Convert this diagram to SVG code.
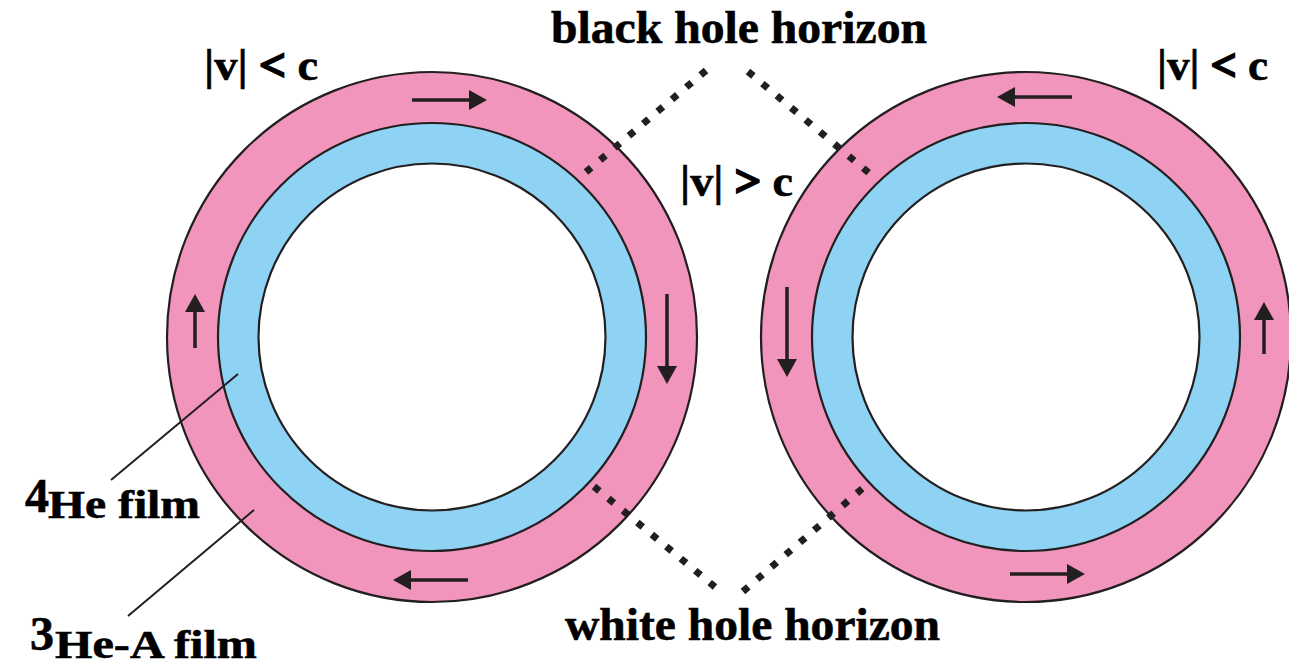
<svg xmlns="http://www.w3.org/2000/svg" width="1289" height="670" viewBox="0 0 1289 670">
<style>
.ring{stroke:#231f20;stroke-width:2.2}
.pink{fill:#f295bd}
.blue{fill:#8fd3f4}
.hole{fill:#ffffff}
.flow{stroke:#231f20;stroke-width:3.5;fill:none;marker-end:url(#head)}
.dots{stroke:#231f20;stroke-width:7;stroke-dasharray:7 11.8;fill:none}
.lead{stroke:#231f20;stroke-width:2;fill:none}
.lbl{font-family:"Liberation Serif","Times New Roman",serif;font-weight:bold;fill:#000;stroke:#000;stroke-width:0.6}
.op{stroke-width:2.2}
</style>
<defs>
<marker id="head" viewBox="0 0 18 20" refX="10" refY="10" markerWidth="18" markerHeight="20" markerUnits="userSpaceOnUse" orient="auto">
<path d="M0,0 L18,10 L0,20 Z" fill="#231f20"/>
</marker>
</defs>
<rect width="1289" height="670" fill="#ffffff"/>
<g id="left-ring">
<circle class="ring pink" cx="432" cy="337" r="265"/>
<circle class="ring blue" cx="432" cy="337" r="214"/>
<circle class="ring hole" cx="432" cy="337" r="173.5"/>
</g>
<g id="right-ring">
<circle class="ring pink" cx="1026" cy="337" r="265"/>
<circle class="ring blue" cx="1026" cy="337" r="214"/>
<circle class="ring hole" cx="1026" cy="337" r="173.5"/>
</g>
<g id="flow-arrows">
<line class="flow" x1="412" y1="100" x2="479" y2="100"/>
<line class="flow" x1="468" y1="580" x2="401" y2="580"/>
<line class="flow" x1="195" y1="348" x2="195" y2="302"/>
<line class="flow" x1="667" y1="294" x2="667" y2="376"/>
<line class="flow" x1="787" y1="287" x2="787" y2="369"/>
<line class="flow" x1="1072" y1="97" x2="1005" y2="97"/>
<line class="flow" x1="1264" y1="354" x2="1264" y2="310"/>
<line class="flow" x1="1010" y1="574" x2="1077" y2="574"/>
</g>
<g id="connectors">
<line class="dots" x1="706" y1="70.5" x2="586" y2="172"/>
<line class="dots" x1="748" y1="71.5" x2="869" y2="173"/>
<line class="dots" x1="594" y1="486.5" x2="715" y2="587"/>
<line class="dots" x1="743" y1="591.5" x2="863" y2="488"/>
<line class="lead" x1="111" y1="480" x2="238" y2="374"/>
<line class="lead" x1="128" y1="616" x2="254" y2="510"/>
</g>
<g id="labels">
<text class="lbl" x="551" y="43" font-size="46" textLength="376" lengthAdjust="spacingAndGlyphs">black hole horizon</text>
<text class="lbl" x="565" y="640" font-size="46" textLength="375" lengthAdjust="spacingAndGlyphs">white hole horizon</text>
<text class="lbl" x="204" y="80" font-size="44" textLength="114" lengthAdjust="spacingAndGlyphs">|v| <tspan class="op">&lt;</tspan> c</text>
<text class="lbl" x="1157" y="80" font-size="44" textLength="111" lengthAdjust="spacingAndGlyphs">|v| <tspan class="op">&lt;</tspan> c</text>
<text class="lbl" x="680" y="196" font-size="44" textLength="113" lengthAdjust="spacingAndGlyphs">|v| <tspan class="op">&gt;</tspan> c</text>
<text class="lbl" x="25" y="512" font-size="48">4</text>
<text class="lbl" x="48" y="518" font-size="41" textLength="152" lengthAdjust="spacingAndGlyphs">He film</text>
<text class="lbl" x="30" y="650" font-size="48">3</text>
<text class="lbl" x="55" y="658" font-size="41" textLength="202" lengthAdjust="spacingAndGlyphs">He-A film</text>
</g>
</svg>
